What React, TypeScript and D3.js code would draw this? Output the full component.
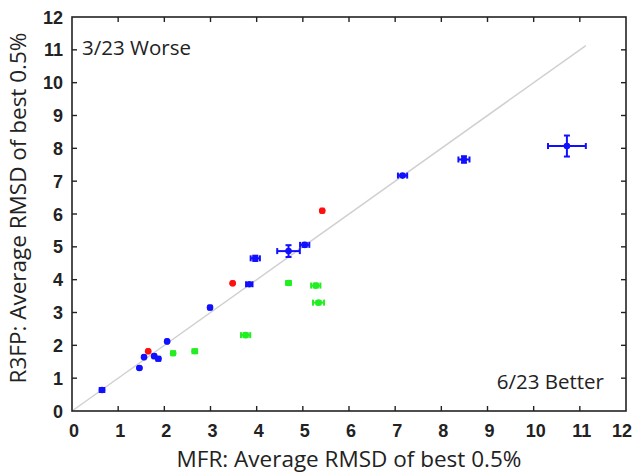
import React from "react";
import * as d3 from "d3";

const ticks = [0, 1, 2, 3, 4, 5, 6, 7, 8, 9, 10, 11, 12];

// Blue: similar performance
const blueX = [0.65, 1.46, 1.56, 1.78, 1.87, 2.06, 2.99, 3.84, 3.97, 4.69, 5.04, 7.16, 8.49, 10.72];
const blueY = [0.64, 1.31, 1.64, 1.67, 1.59, 2.12, 3.15, 3.86, 4.65, 4.87, 5.06, 7.17, 7.66, 8.07];
const blueXErr = [0.05, 0.02, 0.02, 0.03, 0.04, 0.02, 0.03, 0.07, 0.1, 0.245, 0.1, 0.1, 0.12, 0.41];
const blueYErr = [0.02, 0.02, 0.02, 0.02, 0.02, 0.02, 0.03, 0.02, 0.08, 0.18, 0.06, 0.03, 0.1, 0.32];

// Red: worse
const redX = [1.65, 3.48, 5.42];
const redY = [1.82, 3.89, 6.1];
const redXErr = [0.02, 0.02, 0.03];
const redYErr = [0.02, 0.02, 0.02];

// Green: better
const greenX = [2.19, 2.66, 3.76, 4.69, 5.28, 5.34];
const greenY = [1.76, 1.82, 2.31, 3.9, 3.82, 3.3];
const greenXErr = [0.04, 0.05, 0.1, 0.05, 0.1, 0.12];
const greenYErr = [0.02, 0.02, 0.06, 0.03, 0.06, 0.05];

const diagEnd = 11.13;

export default function App() {
  const W = 633, H = 473;
  const L = 72, R = 626, T = 17, B = 411;
  const x = d3.scaleLinear().domain([0, 12]).range([L, R]);
  const y = d3.scaleLinear().domain([0, 12]).range([B, T]);

  const series = [
    { xs: blueX, ys: blueY, xe: blueXErr, ye: blueYErr, color: "#1010ff" },
    { xs: redX, ys: redY, xe: redXErr, ye: redYErr, color: "#ff1010" },
    { xs: greenX, ys: greenY, xe: greenXErr, ye: greenYErr, color: "#22ee22" },
  ];

  const tickFont = "'Liberation Sans', Arial, sans-serif";
  const titleFont = "'Open Sans', 'Noto Sans', sans-serif";

  return (
    <svg width={W} height={H} style={{ position: "absolute", left: 0, top: 0, background: "#fff" }}>
      <rect x={0} y={0} width={W} height={H} fill="#fff" />
      {/* diagonal */}
      <line x1={x(0)} y1={y(0)} x2={x(diagEnd)} y2={y(diagEnd)} stroke="#d0d0d0" strokeWidth={1.5} />
      {/* frame */}
      <rect x={L} y={T} width={R - L} height={B - T} fill="none" stroke="#222" strokeWidth={1.6} />
      {/* ticks */}
      {ticks.slice(1, -1).map((t) => (
        <g key={"t" + t} stroke="#222" strokeWidth={1.4}>
          <line x1={x(t)} x2={x(t)} y1={B} y2={B - 5} />
          <line x1={x(t)} x2={x(t)} y1={T} y2={T + 5} />
          <line x1={L} x2={L + 5} y1={y(t)} y2={y(t)} />
          <line x1={R} x2={R - 5} y1={y(t)} y2={y(t)} />
        </g>
      ))}
      {ticks.map((t) => (
        <text key={"xl" + t} x={x(t) + (t === 12 ? -4 : 2)} y={437} textAnchor="middle" fontFamily={tickFont}
          fontSize={18} fill="#222" fontWeight={600}>{t}</text>
      ))}
      {ticks.map((t) => (
        <text key={"yl" + t} x={63} y={y(t) + 6.5} textAnchor="end" fontFamily={tickFont}
          fontSize={18} fill="#222" fontWeight={600}>{t}</text>
      ))}
      {/* points */}
      {series.map((s, si) =>
        s.xs.map((xv, i) => {
          const cx = x(xv), cy = y(s.ys[i]);
          const x0 = x(xv - s.xe[i]), x1 = x(xv + s.xe[i]);
          const y0 = y(s.ys[i] - s.ye[i]), y1 = y(s.ys[i] + s.ye[i]);
          return (
            <g key={si + "-" + i} stroke={s.color} fill={s.color}>
              <line x1={x0} x2={x1} y1={cy} y2={cy} strokeWidth={2} />
              <line x1={cx} x2={cx} y1={y0} y2={y1} strokeWidth={2} />
              <line x1={x0} x2={x0} y1={cy - 3} y2={cy + 3} strokeWidth={2} />
              <line x1={x1} x2={x1} y1={cy - 3} y2={cy + 3} strokeWidth={2} />
              <line x1={cx - 3} x2={cx + 3} y1={y0} y2={y0} strokeWidth={2} />
              <line x1={cx - 3} x2={cx + 3} y1={y1} y2={y1} strokeWidth={2} />
              <circle cx={cx} cy={cy} r={3.3} stroke="none" />
            </g>
          );
        })
      )}
      <text x={82} y={55} fontFamily={titleFont} fontSize={20.5} fill="#222">3/23 Worse</text>
      <text x={604} y={389} textAnchor="end" fontFamily={titleFont} fontSize={20.5} fill="#222">6/23 Better</text>
      <text x={349} y={467} textAnchor="middle" fontFamily={titleFont} fontSize={22.5} fill="#222">MFR: Average RMSD of best 0.5%</text>
      <text transform={`translate(26,208) rotate(-90)`} textAnchor="middle" fontFamily={titleFont} fontSize={22.5} fill="#222">R3FP: Average RMSD of best 0.5%</text>
    </svg>
  );
}
